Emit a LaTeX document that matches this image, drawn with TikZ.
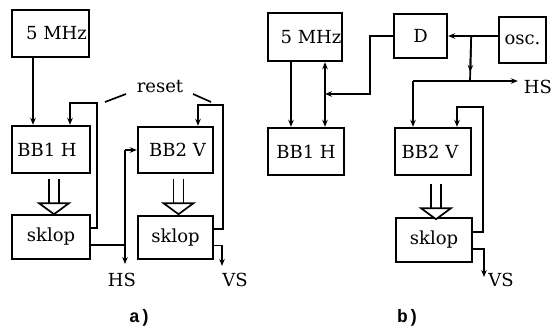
\documentclass[tikz,border=0pt]{standalone}
\usepackage{fontspec}
\setmainfont{DejaVu Serif}
\newfontfamily\capfont{Liberation Mono}
\usetikzlibrary{arrows.meta,calc}
\begin{document}
\begin{tikzpicture}[x=1pt,y=-1pt,
  box/.style={draw, line width=2.4pt, inner sep=0pt, font=\fontsize{18}{20}\selectfont},
  ln/.style={line width=1.7pt},
  arr/.style={ln, -{Stealth[length=7pt,width=5.5pt]}},
  lbl/.style={font=\fontsize{18}{20}\selectfont, inner sep=1pt},
  caption/.style={font=\capfont\bfseries\fontsize{18}{18}\selectfont, inner sep=1pt},
  hollow/.pic={
    \draw[line width=1.7pt] (-5,0) -- (-5,24) (5,0) -- (5,24);
    \draw[line width=1.7pt, fill=white, line join=miter] (-15,24) -- (15,24) -- (0,35) -- cycle;
  }]
\useasboundingbox (0,0) rectangle (554,327);

% ---------- a) ----------
\node[box, minimum width=77pt, minimum height=47pt] (a5) at (50.5,33.5) {\hspace*{12pt}5 MHz};
\node[box, minimum width=78pt, minimum height=47pt] (aBB1) at (51,149.5) {BB1 H\hspace*{8pt}};
\node[box, minimum width=78pt, minimum height=44pt] (aS1) at (51,237) {sklop};
\node[box, minimum width=75pt, minimum height=46pt] (aBB2) at (175.5,150) {\hspace*{4pt}BB2 V};
\node[box, minimum width=75pt, minimum height=43pt] (aS2) at (175.5,237.5) {sklop};

\draw[arr] ([xshift=-17.5pt]a5.south) -- ([xshift=-17.5pt]a5.south |- aBB1.north);

\pic at ($(aBB1.south)+(3,5)$) {hollow};
\pic at ($(aBB2.south)+(3,5)$) {hollow};

\node[lbl] (reset) at (160,87) {reset};
\draw[ln] ($(reset.center)+(-34,7)$) -- ++(-21,8);
\draw[ln] ($(reset.center)+(33,7)$) -- ++(18,8);

\draw[arr] ([yshift=9pt]aS1.east) -| (97,103) -| ([xshift=19pt]aBB1.north);
\draw[arr] ([yshift=8.5pt]aS2.east) -| (223,105) -| ([xshift=22.5pt]aBB2.north);

\coordinate (ja) at (125,150);
\coordinate (s1o) at ([yshift=-8pt]aS1.east);
\node[lbl] (hsA) at (122,280) {HS};
\draw[arr, shorten >=8pt] (ja) -- (ja |- hsA.north);
\draw[arr] (ja) -- (ja -| aBB2.west);
\draw[ln] (s1o) -- (s1o -| ja);

\node[lbl] (vsA) at (235,280) {VS};
\coordinate (s2o) at ([yshift=-8pt]aS2.east);
\draw[arr] (s2o) -| ([xshift=-13pt,yshift=6pt]vsA.north);

\node[caption] (la) at (140,318) {a)};

% ---------- b) ----------
\node[box, minimum width=74pt, minimum height=48pt] (b5) at (305,37) {\hspace*{12pt}5 MHz};
\node[box, minimum width=76pt, minimum height=47pt] (bBB1) at (306,151.5) {BB1 H};
\node[box, minimum width=53pt, minimum height=44pt] (D) at (420.5,36) {D};
\node[box, minimum width=47pt, minimum height=46pt] (osc) at (522.5,40) {osc.};
\node[box, minimum width=76pt, minimum height=47pt] (bBB2) at (433,151.5) {BB2 V\hspace*{6pt}};
\node[box, minimum width=76pt, minimum height=44pt] (bS) at (434,240) {sklop};

\draw[arr] ([xshift=-14pt]b5.south) -- ([xshift=-14pt]b5.south |- bBB1.north);
\coordinate (jb) at (325,94);
\draw[arr] (jb) -- (jb |- b5.south);
\draw[arr] (jb) -- (jb |- bBB1.north);
\draw[arr] (D.west) -| (370,94) -- (jb);

\draw[arr] (osc.west |- D.east) -- (D.east);
\path (D.east) ++(23,0) coordinate (jo);
\coordinate (hb) at (470,81);
\draw[ln] (jo) -- (hb);
\draw[arr] (jo) -- ($(jo)!0.8!(hb)$);

\node[lbl] (hsB) at (538,87) {HS};
\path ([xshift=-20pt]bBB2.north) coordinate (bin);
\draw[arr, shorten >=5pt] (bin |- hb) -- (hb -| hsB.west);
\draw[arr] (bin |- hb) -- (bin);

\pic at ($(bBB2.south)+(3,8)$) {hollow};

\draw[arr] ([yshift=8pt]bS.east) -| (483,107) -| ([xshift=24pt]bBB2.north);

\node[lbl] (vsB) at (501,280) {VS};
\coordinate (vsb) at (484,277);
\draw[arr] ([yshift=-9pt]bS.east) -| (vsb);

\node[caption] (lb) at (408,318) {b)};
\end{tikzpicture}
\end{document}
